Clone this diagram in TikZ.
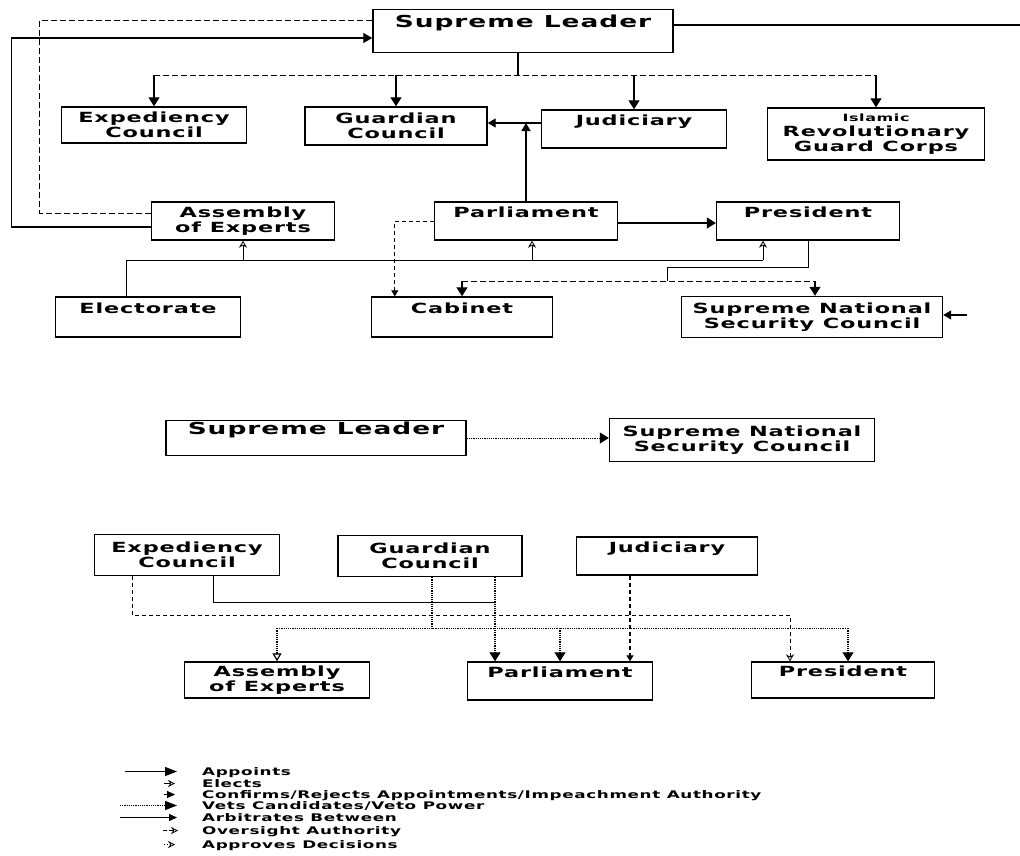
\documentclass[tikz,border=0pt]{standalone}
\usepackage{fontspec}
\newfontfamily\lblfont{DejaVu Sans}[FakeStretch=1.6,LetterSpace=6]
\usetikzlibrary{arrows.meta}
\begin{document}
\begin{tikzpicture}[x=1pt,y=-1pt,
  box/.style={draw, line width=1.4pt, inner sep=2pt, align=center,
    font=\lblfont\bfseries\fontsize{14}{15}\selectfont},
  bigtxt/.style={font=\lblfont\bfseries\fontsize{16.5}{18}\selectfont},
  onel/.style={text height=10pt, text depth=18pt},
  appoint/.style={line width=1.2pt, -{Triangle[length=9pt,width=11pt]}},
  elect/.style={line width=0.8pt, -{Stealth[open,length=7pt,width=8pt]}},
  confirm/.style={line width=0.8pt, dash pattern=on 4pt off 3pt, -{Triangle[length=6pt,width=7pt]}},
  vets/.style={line width=1.2pt, densely dotted, -{Triangle[length=9pt,width=11pt]}},
  vetsopen/.style={line width=1.2pt, densely dotted, -{Triangle[open,length=8pt,width=9pt]}},
  vetsline/.style={line width=1.2pt, densely dotted},
  arbit/.style={line width=1pt},
  overs/.style={line width=0.8pt, dash pattern=on 4pt off 3pt, -{Stealth[open,length=7pt,width=8pt]}},
  thinline/.style={line width=0.8pt},
  dashline/.style={line width=0.8pt, dash pattern=on 6pt off 3pt},
  lgd/.style={anchor=base west, inner sep=0pt, font=\lblfont\bfseries\fontsize{10.5}{12}\selectfont}
]
\useasboundingbox (0,0) rectangle (1020,855);
\fill[white] (0,0) rectangle (1020,855);

% ---------- top chart ----------
\node[box,onel,bigtxt,minimum width=300pt,minimum height=43pt] (SL1) at (523,31) {Supreme Leader};
\node[box,minimum width=185pt,minimum height=36pt] (EC1) at (154,125) {Expediency\\Council};
\node[box,minimum width=182pt,minimum height=38pt] (GC1) at (396,126) {Guardian\\Council};
\node[box,onel,minimum width=185pt,minimum height=38pt] (JU1) at (634,129) {Judiciary};
\node[box,minimum width=217pt,minimum height=52pt] (IRGC) at (876,134) {{\fontsize{10}{11}\selectfont Islamic}\\Revolutionary\\Guard Corps};
\node[box,minimum width=183pt,minimum height=38pt] (AoE1) at (243,221) {Assembly\\of Experts};
\node[box,onel,minimum width=183pt,minimum height=38pt] (PA1) at (526,221) {Parliament};
\node[box,onel,minimum width=183pt,minimum height=38pt] (PR1) at (808,221) {President};
\node[box,onel,minimum width=185pt,minimum height=40pt] (EL) at (148,317) {Electorate};
\node[box,onel,minimum width=181pt,minimum height=40pt] (CA) at (462,317) {Cabinet};
\node[box,minimum width=261pt,minimum height=41pt] (SNSC1) at (812,317) {Supreme National\\Security Council};

% Supreme Leader appoints
\coordinate (sj) at (518,75);
\draw[line width=1.2pt] (SL1.south -| sj) -- (sj);
\draw[dashline] (EC1.north |- sj) -- (IRGC.north |- sj);
\foreach \n in {EC1,GC1,JU1,IRGC} \draw[appoint] (\n.north |- sj) -- (\n.north);

% Assembly of Experts loops to Supreme Leader
\draw[line width=1.2pt, -{Triangle[length=9pt,width=10pt]}] ([yshift=-6pt]AoE1.west) -- ++(-139,0) |- ([yshift=-7pt]SL1.west);
\draw[dashline] ([yshift=8pt]AoE1.west) -- ++(-111,0) |- ([yshift=11pt]SL1.west);

% Supreme Leader to the right edge, and into SNSC
\coordinate (edgeR) at (1020,25);
\draw[line width=1.4pt] ([yshift=6pt]SL1.east) -- (edgeR);
\coordinate (snscin) at (967,315);
\draw[line width=1.2pt, -{Triangle[length=8pt,width=9pt]}] (snscin) -- (SNSC1.east |- snscin);

% Judiciary -> Guardian Council, Parliament up
\coordinate (jgc) at ([yshift=6pt]JU1.west);
\draw[line width=1.2pt, -{Triangle[length=8pt,width=9pt]}] (jgc) -- (GC1.east |- jgc);
\draw[line width=1.2pt, -{Triangle[length=8pt,width=9pt]}] (PA1.north) -- (PA1.north |- jgc);

% Parliament -> President
\draw[appoint] ([yshift=-2pt]PA1.east) -- ([yshift=-2pt]PA1.east -| PR1.west);

% Electorate elects
\path ([xshift=-22pt]EL.north) ++(0,-36) coordinate (ej);
\draw[thinline] ([xshift=-22pt]EL.north) -- (ej) -- ([xshift=-45pt]PR1.south |- ej);
\draw[elect] (AoE1.south |- ej) -- (AoE1.south);
\draw[elect] ([xshift=6pt]PA1.south |- ej) -- ([xshift=6pt]PA1.south);
\draw[elect] ([xshift=-45pt]PR1.south |- ej) -- ([xshift=-45pt]PR1.south);

% President appoints Cabinet and SNSC
\coordinate (pj) at (667,281);
\draw[thinline] (PR1.south) -- ++(0,27) -| (pj);
\draw[dashline] (CA.north |- pj) -- ([xshift=3pt]SNSC1.north |- pj);
\draw[appoint] (CA.north |- pj) -- (CA.north);
\draw[appoint] ([xshift=3pt]SNSC1.north |- pj) -- ([xshift=3pt]SNSC1.north);

% Parliament confirms Cabinet
\draw[confirm] (PA1.west) -- ++(-39,0) coordinate (pc) -- (pc |- CA.north);

% ---------- middle ----------
\node[box,onel,bigtxt,minimum width=300pt,minimum height=35pt] (SL2) at (316,438) {Supreme Leader};
\node[box,minimum width=265pt,minimum height=43pt] (SNSC2) at (742,440) {Supreme National\\Security Council};
\draw[vets, line width=1pt] (SL2.east) -- (SL2.east -| SNSC2.west);

% ---------- bottom chart ----------
\node[box,minimum width=185pt,minimum height=41pt] (EC2) at (187,555) {Expediency\\Council};
\node[box,minimum width=184pt,minimum height=41pt] (GC2) at (430,556) {Guardian\\Council};
\node[box,onel,minimum width=181pt,minimum height=38pt] (JU2) at (667,556) {Judiciary};
\node[box,minimum width=185pt,minimum height=36pt] (AoE2) at (277,680) {Assembly\\of Experts};
\node[box,onel,minimum width=185pt,minimum height=38pt] (PA2) at (560,681) {Parliament};
\node[box,onel,minimum width=183pt,minimum height=36pt] (PR2) at (843,680) {President};

\coordinate (gpx) at ([xshift=65pt]GC2.south);
% Expediency Council arbitrates
\draw[arbit] ([xshift=26pt]EC2.south) -- ++(0,26) coordinate (a1) -- (a1 -| gpx);
% Expediency Council oversight
\coordinate (ox) at ([xshift=-53pt]PR2.north);
\draw[overs] ([xshift=-55pt]EC2.south) -- ++(0,39) coordinate (o1) -- (o1 -| ox) -- (ox);
% Guardian Council vets candidates
\path ([xshift=2pt]GC2.south) ++(0,51) coordinate (gv);
\draw[vetsline] ([xshift=2pt]GC2.south) -- (gv);
\draw[vetsline] (AoE2.north |- gv) -- ([xshift=5pt]PR2.north |- gv);
\draw[vetsopen] (AoE2.north |- gv) -- (AoE2.north);
\draw[vets] (PA2.north |- gv) -- (PA2.north);
\draw[vets] ([xshift=5pt]PR2.north |- gv) -- ([xshift=5pt]PR2.north);
% Guardian Council veto power over Parliament
\draw[vets] (gpx) -- (gpx |- PA2.north);
% Judiciary -> Parliament
\draw[confirm, line width=1.2pt] ([xshift=-37pt]JU2.south) -- ([xshift=-37pt]JU2.south |- PA2.north);

% ---------- legend ----------
\node[lgd] (lg1) at (202,775) {Appoints};
\node[lgd] (lg2) at (202,787) {Elects};
\node[lgd] (lg3) at (202,798) {Confirms/Rejects Appointments/Impeachment Authority};
\node[lgd] (lg4) at (202,809) {Vets Candidates/Veto Power};
\node[lgd] (lg5) at (202,821) {Arbitrates Between};
\node[lgd] (lg6) at (202,834) {Oversight Authority};
\node[lgd] (lg7) at (202,848) {Approves Decisions};

\draw[line width=1.2pt, -{Triangle[length=12pt,width=9pt]}] ([xshift=-77pt,yshift=3.5pt]lg1.base west) -- ([xshift=-25pt,yshift=3.5pt]lg1.base west);
\draw[line width=0.8pt, -{Stealth[open,length=7pt,width=7pt]}] ([xshift=-38pt,yshift=3.5pt]lg2.base west) -- ([xshift=-27pt,yshift=3.5pt]lg2.base west);
\draw[line width=0.8pt, -{Triangle[length=8pt,width=7pt]}] ([xshift=-38pt,yshift=3.5pt]lg3.base west) -- ([xshift=-27pt,yshift=3.5pt]lg3.base west);
\draw[line width=1.2pt, densely dotted, -{Triangle[length=12pt,width=9pt]}] ([xshift=-82pt,yshift=3.5pt]lg4.base west) -- ([xshift=-25pt,yshift=3.5pt]lg4.base west);
\draw[line width=1.2pt, -{Triangle[length=8pt,width=7pt]}] ([xshift=-82pt,yshift=3.5pt]lg5.base west) -- ([xshift=-25pt,yshift=3.5pt]lg5.base west);
\draw[line width=0.8pt, dash pattern=on 4pt off 2pt, -{Stealth[open,length=7pt,width=7pt]}] ([xshift=-39pt,yshift=3.5pt]lg6.base west) -- ([xshift=-24pt,yshift=3.5pt]lg6.base west);
\draw[line width=0.8pt, dotted, -{Stealth[open,length=7pt,width=7pt]}] ([xshift=-38pt,yshift=3.5pt]lg7.base west) -- ([xshift=-27pt,yshift=3.5pt]lg7.base west);
\end{tikzpicture}
\end{document}
